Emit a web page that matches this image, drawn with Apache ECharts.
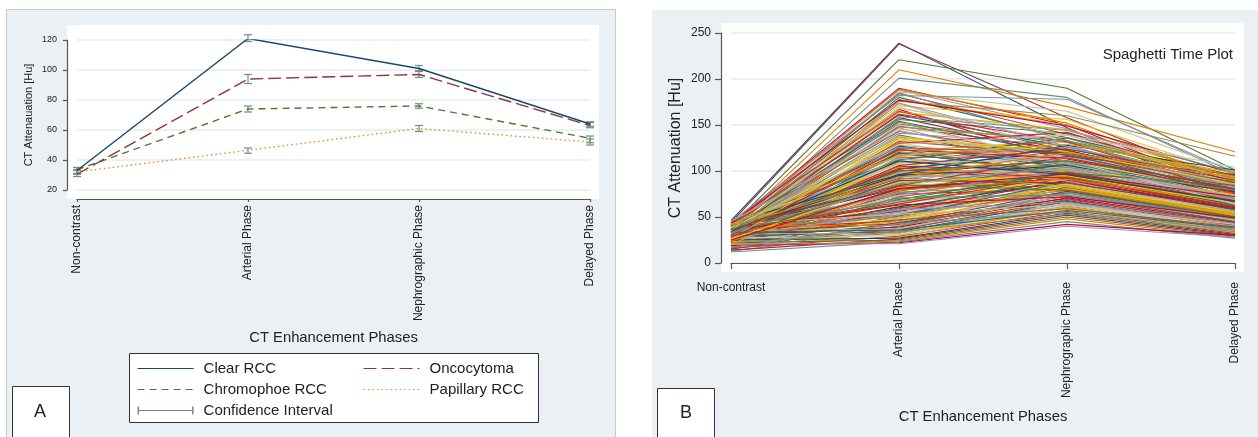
<!DOCTYPE html>
<html>
<head>
<meta charset="utf-8">
<script src="https://cdn.jsdelivr.net/npm/echarts@6/dist/echarts.min.js"></script>
<style>
  html, body { margin: 0; padding: 0; background: #fff; }
  #chart { width: 1258px; height: 437px; }
</style>
</head>
<body>
<div id="chart"></div>
<script>
const phases = ["Non-contrast", "Arterial Phase", "Nephrographic Phase", "Delayed Phase"];

// panel A: mean attenuation per subtype
const clearRcc = [33, 121, 101, 64];
const oncocytoma = [30.5, 94, 97, 63];
const chromophobe = [33.5, 74, 76, 54.5];
const papillary = [32, 46.5, 61, 52];

// panel A: confidence intervals (low / high)
const clearLow = [31, 119, 99, 62.5];
const clearHigh = [35, 123.5, 103, 65.5];
const oncoLow = [29, 91, 95, 61.5];
const oncoHigh = [33, 97, 99.5, 65];
const chromoLow = [31, 72, 74.5, 51.5];
const chromoHigh = [35, 76, 77.5, 56];
const papLow = [30.5, 44.5, 59, 50];
const papHigh = [33.5, 48, 63, 54];

const yTicksA = { min: 20, max: 120, step: 20 };
const yTicksB = { min: 0, max: 250, step: 50 };

// panel B: individual lesions [non-contrast, arterial, nephrographic, delayed]
const lesions = [
  [46, 239, 147, 70], [44, 238, 158, 86], [40, 221, 190, 101], [38, 210, 170, 121],
  [35, 201, 180, 95], [42, 190, 150, 80], [41, 188, 146, 78], [37, 186, 165, 100],
  [36, 184, 140, 90], [45, 182, 178, 98], [33, 180, 136, 85], [30, 176, 160, 116],
  [39, 173, 121, 70], [34, 171, 156, 96], [28, 169, 131, 82], [40, 167, 111, 65],
  [32, 164, 145, 92], [36, 161, 126, 78], [27, 158, 119, 71], [43, 156, 141, 88],
  [31, 153, 108, 68], [38, 151, 131, 86], [29, 149, 123, 74], [35, 147, 101, 62],
  [26, 145, 136, 90], [40, 143, 116, 72], [33, 141, 128, 80], [30, 139, 106, 66],
  [37, 137, 119, 84], [25, 135, 111, 70], [42, 133, 125, 93], [34, 131, 98, 60],
  [28, 130, 142, 88], [39, 128, 113, 75], [31, 127, 104, 69], [24, 125, 120, 82],
  [36, 124, 95, 58], [41, 122, 132, 91], [29, 121, 109, 73], [33, 119, 100, 64],
  [27, 118, 126, 85], [38, 116, 92, 55], [22, 115, 115, 77], [35, 113, 103, 70],
  [44, 112, 136, 95], [30, 110, 97, 62], [26, 109, 112, 79], [37, 108, 88, 52],
  [32, 106, 118, 83], [23, 105, 101, 68], [40, 104, 94, 60], [28, 102, 122, 87],
  [34, 101, 90, 57], [21, 100, 107, 72], [36, 98, 99, 66], [31, 97, 84, 50],
  [25, 96, 113, 78], [39, 94, 96, 63], [29, 93, 103, 71], [33, 92, 86, 54],
  [20, 91, 110, 76], [37, 89, 93, 61], [27, 88, 98, 67], [42, 87, 118, 89],
  [30, 86, 82, 49], [24, 84, 105, 73], [35, 83, 91, 58], [19, 82, 100, 70],
  [38, 81, 88, 56], [28, 80, 95, 64], [32, 78, 108, 80], [22, 77, 85, 52],
  [36, 76, 97, 65], [26, 75, 80, 47], [41, 74, 102, 74], [30, 73, 90, 60],
  [18, 72, 94, 66], [34, 70, 83, 53], [25, 69, 99, 69], [39, 68, 87, 57],
  [29, 67, 78, 46], [21, 66, 92, 63], [33, 65, 85, 55], [37, 64, 96, 68],
  [24, 62, 81, 50], [28, 61, 89, 59], [16, 60, 76, 45], [35, 59, 93, 62],
  [31, 58, 84, 54], [23, 57, 79, 48], [40, 56, 90, 60], [27, 55, 74, 44],
  [20, 54, 86, 57], [34, 53, 82, 52], [30, 52, 77, 47], [17, 51, 88, 58],
  [38, 50, 80, 51], [25, 49, 72, 42], [32, 48, 84, 55], [22, 47, 75, 46],
  [36, 46, 70, 41], [28, 45, 81, 53], [15, 44, 68, 40], [33, 43, 78, 50],
  [26, 42, 73, 45], [40, 41, 66, 39], [21, 40, 76, 49], [30, 39, 71, 44],
  [19, 38, 64, 37], [35, 37, 74, 47], [24, 36, 69, 43], [13, 35, 62, 36],
  [29, 34, 67, 41], [18, 33, 60, 34], [32, 32, 65, 40], [23, 31, 58, 33],
  [27, 30, 63, 38], [16, 29, 56, 32], [20, 28, 61, 35], [25, 27, 54, 31],
  [14, 26, 52, 30], [22, 25, 50, 29], [18, 24, 48, 28], [12, 23, 45, 27],
  [19, 22, 42, 30], [21, 21, 40, 28],
  [34, 138, 112, 76], [27, 132, 118, 88], [41, 126, 108, 70], [23, 120, 97, 63],
  [37, 117, 124, 92], [30, 114, 89, 56], [25, 111, 104, 74], [44, 107, 115, 82],
  [32, 103, 92, 61], [20, 99, 83, 52], [36, 95, 106, 77], [28, 90, 87, 59],
  [39, 85, 79, 50], [24, 79, 91, 66], [31, 71, 74, 48], [35, 63, 72, 49],
  [26, 58, 66, 43], [42, 53, 63, 42], [29, 47, 59, 39], [17, 43, 55, 36],
  [33, 36, 57, 38], [22, 34, 53, 34], [38, 99, 101, 69], [26, 88, 95, 65],
  [30, 150, 112, 64], [34, 162, 132, 76], [28, 178, 150, 92], [44, 96, 128, 101],
  [40, 84, 116, 96], [36, 66, 98, 84],
  [39, 189, 152, 88], [31, 185, 133, 79], [43, 177, 149, 97], [27, 174, 127, 83],
  [35, 168, 139, 90], [41, 165, 122, 75], [29, 159, 144, 99], [37, 154, 117, 80],
  [32, 148, 133, 94], [45, 144, 108, 71], [26, 136, 121, 86], [38, 129, 139, 104],
  [30, 123, 114, 81], [42, 117, 129, 98], [34, 111, 96, 67], [28, 106, 124, 90],
  [36, 100, 111, 84], [40, 93, 120, 93], [33, 86, 104, 79], [25, 81, 97, 72]
];

const palette = [
  "#1a476f", "#90353b", "#55752f", "#e37e00", "#6e8e84", "#c10534", "#938dd2",
  "#cac27e", "#a0522d", "#7b92a8", "#2d6d66", "#9c8847", "#bfa19c", "#f2c200",
  "#b8c7ce", "#e41a1c", "#e8a800"
];

const font = "Liberation Sans, Arial, sans-serif";
const ciColor = "#6e8e84";

const ciData = [];
[[clearLow, clearHigh], [oncoLow, oncoHigh], [chromoLow, chromoHigh], [papLow, papHigh]].forEach(([lo, hi]) => {
  lo.forEach((v, i) => ciData.push([i, v, hi[i]]));
});

function renderCI(params, api) {
  const lo = api.coord([api.value(0), api.value(1)]);
  const hi = api.coord([api.value(0), api.value(2)]);
  const w = 4;
  const style = { stroke: ciColor, lineWidth: 1.2 };
  return {
    type: "group",
    children: [
      { type: "line", shape: { x1: lo[0], y1: lo[1], x2: hi[0], y2: hi[1] }, style },
      { type: "line", shape: { x1: lo[0] - w, y1: lo[1], x2: lo[0] + w, y2: lo[1] }, style },
      { type: "line", shape: { x1: hi[0] - w, y1: hi[1], x2: hi[0] + w, y2: hi[1] }, style },
    ],
  };
}

const axisLineStyle = { color: "#555", width: 1.2 };
const splitStyle = { show: true, lineStyle: { color: "#e6ebee", width: 1.5 } };

const ciIcon = "path://M0,0h1.5v8h-1.5z M0,3.4h56v1.2h-56z M54.5,0h1.5v8h-1.5z";
const noDot = { opacity: 0 };

const lineA = (name, data, color, type) => ({
  name, type: "line", xAxisIndex: 0, yAxisIndex: 0, data,
  symbol: "none", lineStyle: { color, width: 1.4, type }, itemStyle: { color },
});

const legendBase = {
  top: 361, orient: "vertical", padding: 0, itemWidth: 56, itemHeight: 14, itemGap: 6,
  selectedMode: false, lineStyle: { width: 1.1 },
  textStyle: { fontSize: 15, color: "#222", padding: [0, 0, 0, 5] },
};

const option = {
  animation: false,
  textStyle: { fontFamily: font },
  graphic: [
    { type: "rect", z: -10, silent: true, shape: { x: 6.5, y: 9.5, width: 609, height: 440 }, style: { fill: "#eaf0f3", stroke: "#c3c9cc", lineWidth: 1 } },
    { type: "rect", z: -10, silent: true, shape: { x: 652, y: 10, width: 606, height: 427 }, style: { fill: "#eaf0f3" } },
    { type: "rect", z: -9, silent: true, shape: { x: 67, y: 25, width: 532, height: 174 }, style: { fill: "#fff" } },
    { type: "rect", z: -9, silent: true, shape: { x: 721, y: 23, width: 523, height: 249 }, style: { fill: "#fff" } },
    { type: "rect", z: 1, silent: true, shape: { x: 129.5, y: 353.5, width: 409, height: 69 }, style: { fill: "#fff", stroke: "#333", lineWidth: 1 } },
    { type: "rect", z: 1, silent: true, shape: { x: 12.5, y: 386.5, width: 57, height: 60 }, style: { fill: "#fff", stroke: "#333", lineWidth: 1 } },
    { type: "text", z: 2, silent: true, style: { text: "A", x: 40, y: 412, fontSize: 18, fontFamily: font, fill: "#222", align: "center", verticalAlign: "middle" } },
    { type: "rect", z: 1, silent: true, shape: { x: 657.5, y: 388.5, width: 57, height: 60 }, style: { fill: "#fff", stroke: "#333", lineWidth: 1 } },
    { type: "text", z: 2, silent: true, style: { text: "B", x: 686, y: 413, fontSize: 18, fontFamily: font, fill: "#222", align: "center", verticalAlign: "middle" } },
    { type: "text", z: 2, silent: true, style: { text: "Spaghetti Time Plot", x: 1233, y: 55, fontSize: 15, fontFamily: font, fill: "#222", align: "right", verticalAlign: "middle" } },
  ],
  grid: [
    { left: 77, right: 668, top: 40, bottom: 247 },
    { left: 731, right: 23, top: 33, bottom: 174 },
  ],
  xAxis: [
    {
      gridIndex: 0, type: "category", position: "bottom", data: phases, boundaryGap: false, offset: 9,
      name: "CT Enhancement Phases", nameLocation: "middle", nameGap: 131,
      nameTextStyle: { fontSize: 14.8, color: "#222" },
      axisLine: { lineStyle: axisLineStyle }, axisTick: { length: 3, lineStyle: axisLineStyle },
      axisLabel: { rotate: 90, interval: 0, fontSize: 12, color: "#222", margin: 6 },
    },
    { gridIndex: 0, type: "category", position: "bottom", data: phases, show: false, boundaryGap: false },
    {
      gridIndex: 1, type: "category", position: "bottom", data: phases, boundaryGap: false, offset: 9,
      name: "CT Enhancement Phases", nameLocation: "middle", nameGap: 137,
      nameTextStyle: { fontSize: 14.8, color: "#222" },
      axisLine: { lineStyle: axisLineStyle }, axisTick: { length: 6, lineStyle: axisLineStyle },
      axisLabel: { rotate: 90, interval: 0, fontSize: 12, color: "#222", margin: 10,
        formatter: (v, i) => (i === 0 ? "" : v) },
    },
    {
      gridIndex: 1, type: "category", position: "bottom", data: phases, boundaryGap: false, offset: 9,
      axisLine: { show: false }, axisTick: { show: false },
      axisLabel: { interval: 0, fontSize: 12, color: "#222", margin: 10,
        formatter: (v, i) => (i === 0 ? v : "") },
    },
  ],
  yAxis: [
    {
      gridIndex: 0, type: "value", min: yTicksA.min, max: yTicksA.max, interval: yTicksA.step, offset: 10,
      name: "CT Attenauation [Hu]", nameLocation: "middle", nameGap: 33,
      nameTextStyle: { fontSize: 11, color: "#222" },
      axisLine: { show: true, lineStyle: axisLineStyle }, axisTick: { show: true, length: 4, lineStyle: axisLineStyle },
      axisLabel: { fontSize: 9, color: "#222", margin: 10 },
      splitLine: splitStyle,
    },
    {
      gridIndex: 1, type: "value", min: yTicksB.min, max: yTicksB.max, interval: yTicksB.step, offset: 10,
      name: "CT Attenuation [Hu]", nameLocation: "middle", nameGap: 37,
      nameTextStyle: { fontSize: 16, color: "#222" },
      axisLine: { show: true, lineStyle: axisLineStyle }, axisTick: { show: true, length: 6, lineStyle: axisLineStyle },
      axisLabel: { fontSize: 12, color: "#222", margin: 10 },
      splitLine: splitStyle,
    },
  ],
  legend: [
    {
      ...legendBase, left: 137,
      data: [
        { name: "Clear RCC", itemStyle: noDot },
        { name: "Chromophoe RCC", itemStyle: noDot },
        { name: "Confidence Interval", icon: ciIcon },
      ],
    },
    {
      ...legendBase, left: 363,
      data: [
        { name: "Oncocytoma", itemStyle: noDot },
        { name: "Papillary RCC", itemStyle: noDot },
      ],
    },
  ],
  series: [
    ...lesions.map((row, i) => ({
      type: "line", xAxisIndex: 2, yAxisIndex: 1, data: row, symbol: "none", silent: true,
      lineStyle: { width: 1.1, color: palette[i % palette.length] },
    })),
    lineA("Papillary RCC", papillary, "#e8862a", [1.5, 3]),
    lineA("Chromophoe RCC", chromophobe, "#55752f", [7, 5]),
    lineA("Oncocytoma", oncocytoma, "#90353b", [13, 5]),
    lineA("Clear RCC", clearRcc, "#1a476f", "solid"),
    {
      name: "Confidence Interval", type: "custom", xAxisIndex: 0, yAxisIndex: 0,
      data: ciData, renderItem: renderCI, itemStyle: { color: ciColor }, z: 3,
    },
  ],
};

const chart = echarts.init(document.getElementById("chart"));
chart.setOption(option);
</script>
</body>
</html>
